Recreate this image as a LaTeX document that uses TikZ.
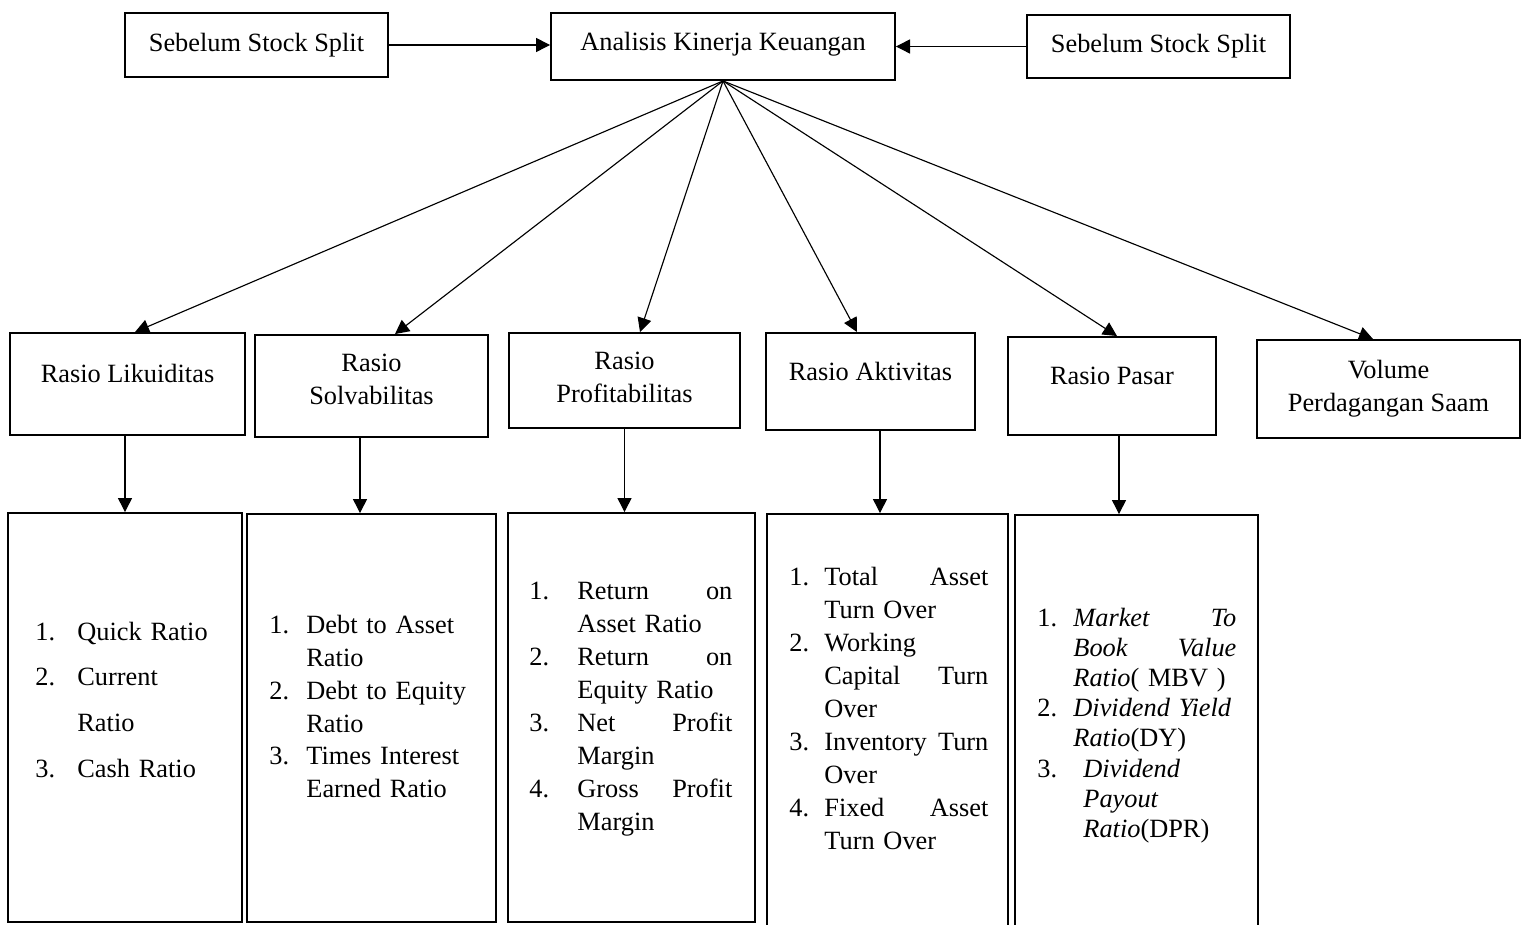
\documentclass[tikz,border=0pt]{standalone}
\usepackage{fontspec}
\setmainfont{Liberation Serif}
\usetikzlibrary{arrows.meta, positioning}

\begin{document}
\begin{tikzpicture}[x=0.02cm, y=-0.02cm,
    box/.style={draw, line width=1.1pt, rectangle, align=center, inner sep=0pt, font=\fontsize{15}{18.7}\selectfont},
    boxtext/.style={align=center, inner sep=0pt, font=\fontsize{15}{18.7}\selectfont},
    listbox/.style={draw, line width=1.1pt, rectangle, inner sep=0pt},
    list/.style={anchor=base west, inner sep=0pt, align=left, text width=4cm, font=\fontsize{15}{18.7}\selectfont},
    arrow/.style={-{Triangle[length=8pt, width=8pt]}, line width=0.65pt}
]
    \useasboundingbox (0,0) rectangle (1524,925);
    \clip (0,0) rectangle (1524,925);

    % top row
    \node (sebL) [box, minimum width=5.26cm, minimum height=1.28cm] at (256.5,45) {Sebelum Stock Split};
    \node (analisis) [box, minimum width=6.88cm, minimum height=1.34cm] at (723,46.5) {};
    \node (analisisT) [boxtext] at ([yshift=0.04cm]analisis) {Analisis Kinerja Keuangan};
    \node (sebR) [box, minimum width=5.26cm, minimum height=1.26cm] at (1158.5,46.5) {Sebelum Stock Split};

    % ratio groups
    \node (liku) [box, minimum width=4.7cm, minimum height=2.04cm] at (127.5,384) {};
    \node (solv) [box, minimum width=4.66cm, minimum height=2.04cm] at (371.5,386) {};
    \node (prof) [box, minimum width=4.62cm, minimum height=1.9cm] at (624.5,380.5) {};
    \node (akt) [box, minimum width=4.18cm, minimum height=1.94cm] at (870.5,381.5) {};
    \node (pasar) [box, minimum width=4.16cm, minimum height=1.96cm] at (1112,386) {};
    \node (vol) [box, minimum width=5.26cm, minimum height=1.96cm] at (1388.5,389) {Volume\\Perdagangan Saam};

    \node (likuT) [boxtext] at ([yshift=0.22cm]liku) {Rasio Likuiditas};
    \node (solvT) [boxtext] at ([yshift=0.14cm]solv) {Rasio\\Solvabilitas};
    \node (profT) [boxtext] at ([yshift=0.07cm]prof) {Rasio\\Profitabilitas};
    \node (aktT) [boxtext] at ([yshift=0.2cm]akt) {Rasio Aktivitas};
    \node (pasarT) [boxtext] at ([yshift=0.2cm]pasar) {Rasio Pasar};

    % detail boxes
    \node (kL) [listbox, minimum width=4.68cm, minimum height=8.18cm] at (125,717.5) {};
    \node (kS) [listbox, minimum width=4.98cm, minimum height=8.16cm] at (371.5,718) {};
    \node (kP) [listbox, minimum width=4.94cm, minimum height=8.18cm] at (631.5,717.5) {};
    \node (kA) [listbox, minimum width=4.82cm, minimum height=8.42cm] at (887.5,724.5) {};
    \node (kM) [listbox, minimum width=4.86cm, minimum height=8.4cm] at (1136.5,725) {};

    \node (kLt) [list, font=\fontsize{15}{26}\selectfont] at ([xshift=0.56cm, yshift=-2.56cm]kL.north west)
        {\makebox[0.84cm][l]{1.}Quick Ratio\\
         \makebox[0.84cm][l]{2.}Current\\
         \hspace*{0.84cm}Ratio\\
         \makebox[0.84cm][l]{3.}Cash Ratio};
    \node (kSt) [list] at ([xshift=0.46cm, yshift=-2.41cm]kS.north west)
        {\makebox[0.74cm][l]{1.}Debt to Asset\\
         \hspace*{0.74cm}Ratio\\
         \makebox[0.74cm][l]{2.}Debt to Equity\\
         \hspace*{0.74cm}Ratio\\
         \makebox[0.74cm][l]{3.}Times Interest\\
         \hspace*{0.74cm}Earned Ratio};
    \node (kPt) [list, text width=4.06cm, font=\fontsize{15}{18.8}\selectfont] at ([xshift=0.44cm, yshift=-1.75cm]kP.north west)
        {\makebox[0.96cm][l]{1.}Return\hfill on\\
         \hspace*{0.96cm}Asset Ratio\\
         \makebox[0.96cm][l]{2.}Return\hfill on\\
         \hspace*{0.96cm}Equity Ratio\\
         \makebox[0.96cm][l]{3.}Net\hfill Profit\\
         \hspace*{0.96cm}Margin\\
         \makebox[0.96cm][l]{4.}Gross\hfill Profit\\
         \hspace*{0.96cm}Margin};
    \node (kAt) [list, text width=3.98cm, font=\fontsize{15}{18.8}\selectfont] at ([xshift=0.46cm, yshift=-1.45cm]kA.north west)
        {\makebox[0.7cm][l]{1.}Total\hfill Asset\\
         \hspace*{0.7cm}Turn Over\\
         \makebox[0.7cm][l]{2.}Working\\
         \hspace*{0.7cm}Capital\hfill Turn\\
         \hspace*{0.7cm}Over\\
         \makebox[0.7cm][l]{3.}Inventory\hfill Turn\\
         \hspace*{0.7cm}Over\\
         \makebox[0.7cm][l]{4.}Fixed\hfill Asset\\
         \hspace*{0.7cm}Turn Over};
    \node (kMt) [list, text width=3.98cm, font=\fontsize{15}{17.2}\selectfont] at ([xshift=0.46cm, yshift=-2.24cm]kM.north west)
        {\makebox[0.72cm][l]{1.}\textit{Market}\hfill\textit{To}\\
         \hspace*{0.72cm}\textit{Book}\hfill\textit{Value}\\
         \hspace*{0.72cm}\textit{Ratio}( MBV )\\
         \makebox[0.72cm][l]{2.}\textit{Dividend Yield}\\
         \hspace*{0.72cm}\textit{Ratio}(DY)\\
         \makebox[0.92cm][l]{3.}\textit{Dividend}\\
         \hspace*{0.92cm}\textit{Payout}\\
         \hspace*{0.92cm}\textit{Ratio}(DPR)};

    % connectors
    \draw [arrow] (sebL.east) -- (sebL.east -| analisis.west);
    \draw [arrow] (sebR.west) -- (sebR.west -| analisis.east);

    \draw [arrow] (analisis.south) -- ([xshift=0.15cm]liku.north);
    \draw [arrow] (analisis.south) -- ([xshift=0.47cm]solv.north);
    \draw [arrow] (analisis.south) -- ([xshift=0.31cm]prof.north);
    \draw [arrow] (analisis.south) -- ([xshift=-0.27cm]akt.north);
    \draw [arrow] (analisis.south) -- ([xshift=0.1cm]pasar.north);
    \draw [arrow] (analisis.south) -- ([xshift=-0.31cm]vol.north);

    \draw [arrow] ([xshift=-0.05cm]liku.south) -- ([xshift=-0.05cm]liku.south |- kL.north);
    \draw [arrow] ([xshift=-0.23cm]solv.south) -- ([xshift=-0.23cm]solv.south |- kS.north);
    \draw [arrow] (prof.south) -- (prof.south |- kP.north);
    \draw [arrow] ([xshift=0.19cm]akt.south) -- ([xshift=0.19cm]akt.south |- kA.north);
    \draw [arrow] ([xshift=0.14cm]pasar.south) -- ([xshift=0.14cm]pasar.south |- kM.north);
\end{tikzpicture}
\end{document}
